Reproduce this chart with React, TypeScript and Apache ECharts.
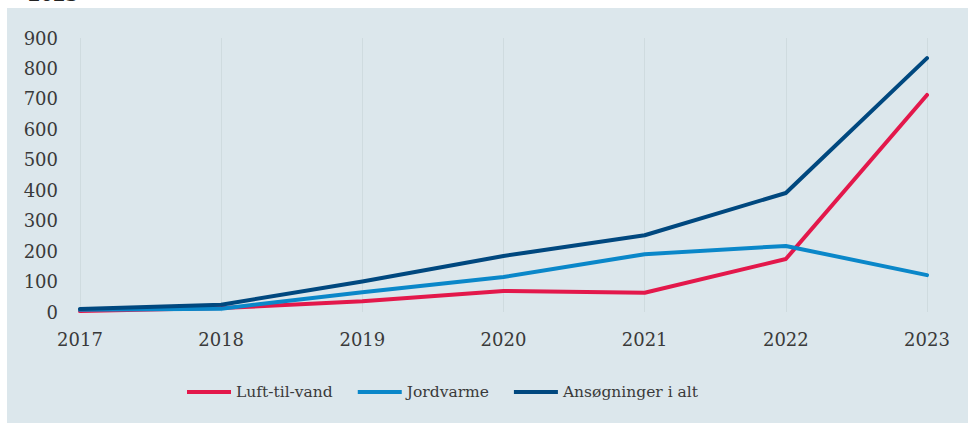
import React, { useEffect, useRef } from "react";
import * as echarts from "echarts";

const years = ["2017", "2018", "2019", "2020", "2021", "2022", "2023"];
const luftTilVand = [3, 13, 35, 69, 63, 174, 713];
const jordvarme = [7, 11, 65, 115, 190, 217, 121];
const ansoegninger = [10, 24, 100, 184, 252, 391, 834];
const seriesNames = ["Luft-til-vand", "Jordvarme", "Ansøgninger i alt"];
const colors = ["#E3184B", "#0A87C9", "#00487F"];

export default function App() {
  const ref = useRef<HTMLDivElement>(null);
  useEffect(() => {
    if (!ref.current) return;
    const chart = echarts.init(ref.current, undefined, { renderer: "svg" });
    const font = "DejaVu Serif";
    const mk = (name: string, data: number[], color: string) => ({
      name,
      type: "line",
      data,
      symbol: "none",
      color,
      lineStyle: { width: 4, color, cap: "round", join: "round" },
    });
    chart.setOption({
      animation: false,
      backgroundColor: "#ffffff",
      graphic: [
        {
          type: "rect",
          z: -10,
          silent: true,
          shape: { x: 7, y: 8, width: 968, height: 423 },
          style: { fill: "#DCE7EC" },
        },
        {
          type: "text",
          x: 28,
          y: -15,
          style: {
            text: "2023",
            fontSize: 18,
            fontWeight: "bold",
            fontFamily: font,
            fill: "#222",
          },
        },
      ],
      grid: { left: 80, right: 41, top: 38, bottom: 111, containLabel: false },
      xAxis: {
        type: "category",
        data: years,
        boundaryGap: false,
        axisLine: { show: false },
        axisTick: { show: false },
        axisLabel: { color: "#3a3a3a", fontSize: 18, fontFamily: font, margin: 18 },
        splitLine: { show: true, lineStyle: { color: "#CFDBDF", width: 1 } },
      },
      yAxis: {
        type: "value",
        min: 0,
        max: 900,
        interval: 100,
        axisLine: { show: false },
        axisTick: { show: false },
        splitLine: { show: false },
        axisLabel: { color: "#3a3a3a", fontSize: 18, fontFamily: font, margin: 22 },
      },
      legend: {
        left: 187,
        top: 384,
        padding: 0,
        itemGap: 25,
        itemWidth: 44,
        itemHeight: 4,
        icon: "rect",
        data: seriesNames,
        textStyle: { color: "#3a3a3a", fontSize: 15.5, fontFamily: font },
      },
      series: [
        mk(seriesNames[0], luftTilVand, colors[0]),
        mk(seriesNames[1], jordvarme, colors[1]),
        mk(seriesNames[2], ansoegninger, colors[2]),
      ],
    });
    return () => chart.dispose();
  }, []);
  return (
    <div
      ref={ref}
      style={{ position: "fixed", left: 0, top: 0, width: 968, height: 423 }}
    />
  );
}
